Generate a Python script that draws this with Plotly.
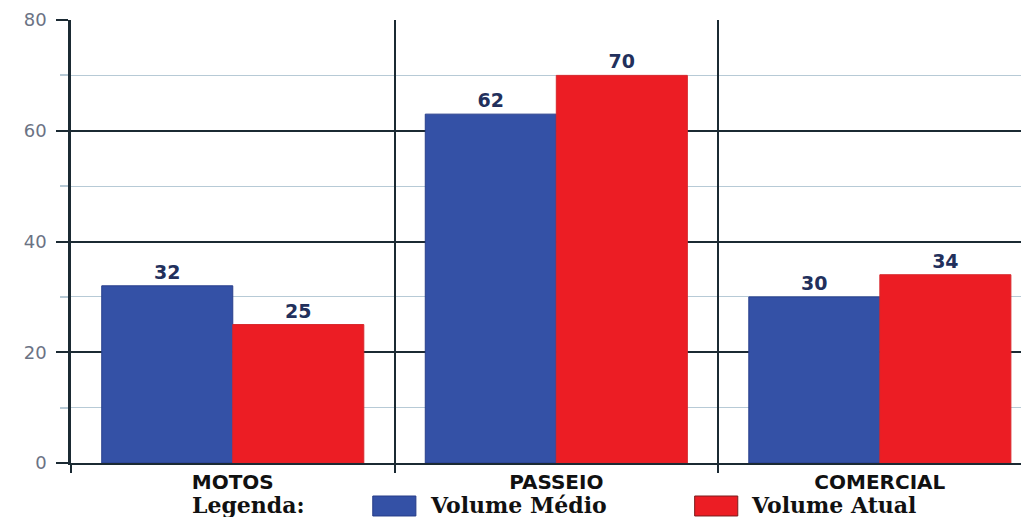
import plotly.graph_objects as go

categories = ["MOTOS", "PASSEIO", "COMERCIAL"]
volume_medio = [32, 63, 30]
volume_medio_labels = ["32", "62", "30"]
volume_atual = [25, 70, 34]
volume_atual_labels = ["25", "70", "34"]
y_ticks = [0, 20, 40, 60, 80]
series_names = ["Volume Médio", "Volume Atual"]

BLUE = "#3451a6"
RED = "#ec1d24"
DARK = "#1b2a33"
LABEL_FONT = dict(family="DejaVu Sans", size=19, color="#22305c", weight="bold")

fig = go.Figure()
fig.add_trace(go.Bar(
    x=categories, y=volume_medio, name=series_names[0],
    marker=dict(color=BLUE, line=dict(color="#283f8c", width=1)),
    text=volume_medio_labels, textposition="outside", textfont=LABEL_FONT,
    cliponaxis=False,
))
fig.add_trace(go.Bar(
    x=categories, y=volume_atual, name=series_names[1],
    marker=dict(color=RED, line=dict(color="#d8262b", width=1)),
    text=volume_atual_labels, textposition="outside", textfont=LABEL_FONT,
    cliponaxis=False,
))

fig.update_layout(
    width=1021, height=509,
    margin=dict(l=63, r=0, t=12, b=54),
    paper_bgcolor="white", plot_bgcolor="white",
    barmode="group", bargap=0.19, bargroupgap=0,
    showlegend=False,
    xaxis=dict(
        type="category", range=[-0.5, 2.461],
        tickson="boundaries", showgrid=True, gridcolor=DARK, gridwidth=2,
        ticks="outside", ticklen=8, tickcolor=DARK, tickwidth=2,
        tickfont=dict(family="DejaVu Sans", size=20, color="#111111", weight="bold"),
        showline=True, linecolor=DARK, linewidth=2,
        zeroline=False,
    ),
    yaxis=dict(
        range=[0, 80], tickvals=y_ticks,
        showgrid=True, gridcolor=DARK, gridwidth=2,
        ticks="outside", ticklen=12, tickcolor=DARK, tickwidth=1.5,
        ticklabelstandoff=6,
        tickfont=dict(family="DejaVu Sans", size=18, color="#6b7384"),
        showline=True, linecolor=DARK, linewidth=2.5,
        zeroline=False,
        minor=dict(dtick=10, showgrid=True, gridcolor="#b7cad6", gridwidth=1,
                   ticks="outside", ticklen=8, tickcolor="#b7cad6"),
    ),
)

legend_font = dict(family="DejaVu Serif", size=22, color="#111111", weight="bold")
fig.add_annotation(xref="paper", yref="paper", x=0.1848, y=-0.0948, text="Legenda:",
                   showarrow=False, xanchor="center", yanchor="middle", font=legend_font)
fig.add_shape(type="rect", xref="paper", yref="paper", x0=0.315, x1=0.360,
              y0=-0.1196, y1=-0.0745, fillcolor=BLUE, line=dict(color="#263c88", width=1))
fig.add_annotation(xref="paper", yref="paper", x=0.3727, y=-0.0948, text=series_names[0],
                   showarrow=False, xanchor="left", yanchor="middle", font=legend_font)
fig.add_shape(type="rect", xref="paper", yref="paper", x0=0.651, x1=0.696,
              y0=-0.1196, y1=-0.0745, fillcolor=RED, line=dict(color="#7a1c1c", width=1))
fig.add_annotation(xref="paper", yref="paper", x=0.7077, y=-0.0948, text=series_names[1],
                   showarrow=False, xanchor="left", yanchor="middle", font=legend_font)

fig.write_html("out.html")
